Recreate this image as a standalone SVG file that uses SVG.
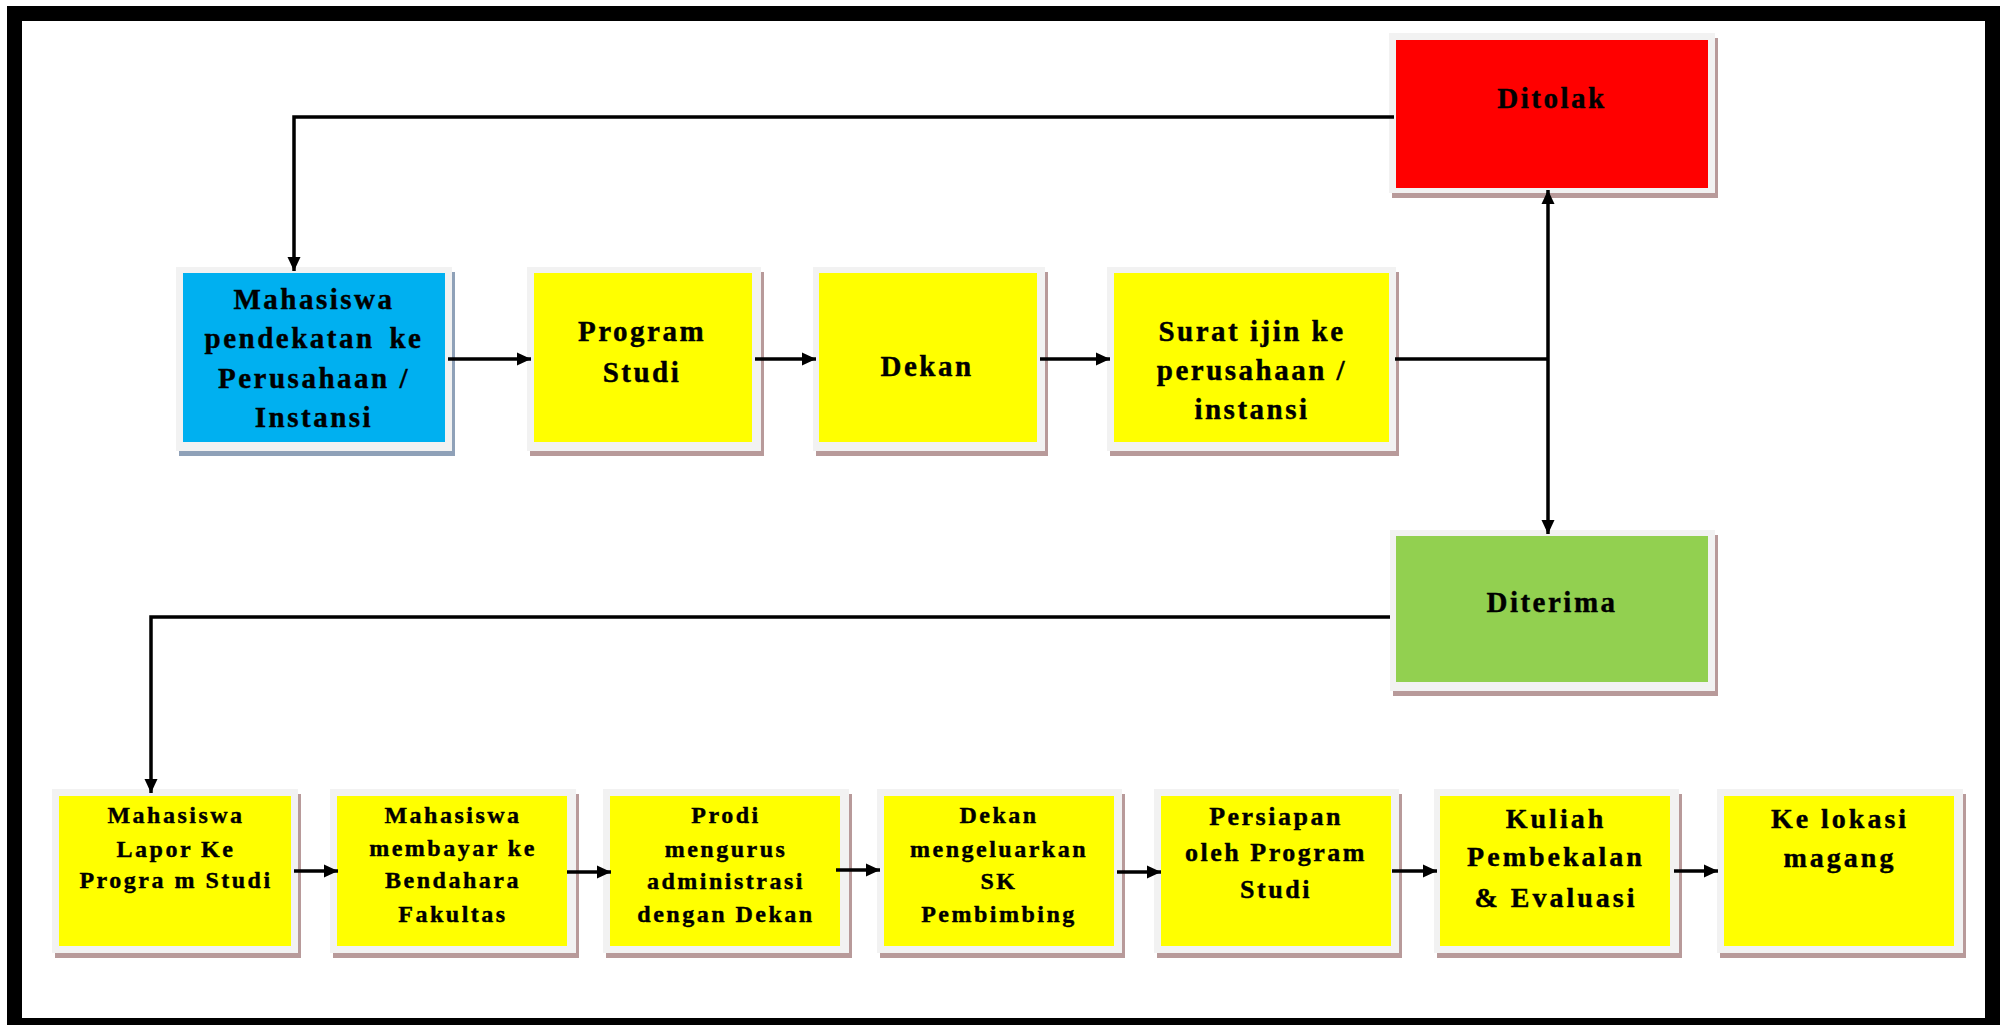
<svg xmlns="http://www.w3.org/2000/svg" width="2006" height="1025" viewBox="0 0 2006 1025">
<style>
.frame{fill:#f2f2f2}
.sh{fill:#b89a9a}
.shb{fill:#8fa1b8}
.y{fill:#ffff00}
.b{fill:#00b0f0}
.r{fill:#ff0000}
.g{fill:#92d050}
text{font-family:"Liberation Serif","Times New Roman",serif;font-weight:bold;fill:#000;stroke:#000;stroke-width:0.4px;text-anchor:middle;letter-spacing:2.5px}
.t29{font-size:29px}
.t24{font-size:24px}
.t26{font-size:26px}
.t28{font-size:28px;letter-spacing:3px}
.c{fill:none;stroke:#000;stroke-width:3.5}
</style>
<defs>
<marker id="ah" markerUnits="userSpaceOnUse" markerWidth="15" markerHeight="14" refX="14" refY="7" orient="auto-start-reverse">
<path d="M0,0.5 L14,7 L0,13.5 z" fill="#000"/>
</marker>
</defs>
<rect x="0" y="0" width="2006" height="1025" fill="#fff"/>
<rect id="border" x="14.5" y="13.5" width="1978" height="1012" fill="none" stroke="#000" stroke-width="15"/>

<g id="n-mahasiswa-pendekatan">
<rect class="shb" x="179" y="272" width="276" height="184"/>
<rect class="frame" x="176" y="267" width="276" height="184"/>
<rect class="b" x="183" y="273" width="262" height="169"/>
<text class="t29" x="314" y="309">Mahasiswa</text>
<text class="t29" x="314" y="348" word-spacing="5">pendekatan ke</text>
<text class="t29" x="314" y="388">Perusahaan /</text>
<text class="t29" x="314" y="427">Instansi</text>
</g>
<g id="n-program-studi">
<rect class="sh" x="530" y="272" width="234" height="184"/>
<rect class="frame" x="527" y="267" width="234" height="184"/>
<rect class="y" x="534" y="273" width="218" height="169"/>
<text class="t29" x="642" y="341">Program</text>
<text class="t29" x="642" y="382">Studi</text>
</g>
<g id="n-dekan">
<rect class="sh" x="816" y="272" width="232" height="184"/>
<rect class="frame" x="813" y="267" width="232" height="184"/>
<rect class="y" x="819" y="273" width="218" height="169"/>
<text class="t29" x="927" y="376">Dekan</text>
</g>
<g id="n-surat-ijin">
<rect class="sh" x="1110" y="272" width="289" height="184"/>
<rect class="frame" x="1107" y="267" width="289" height="184"/>
<rect class="y" x="1114" y="273" width="275" height="169"/>
<text class="t29" x="1252" y="341">Surat ijin ke</text>
<text class="t29" x="1252" y="380">perusahaan /</text>
<text class="t29" x="1252" y="419">instansi</text>
</g>
<g id="n-ditolak">
<rect class="sh" x="1392" y="38" width="326" height="160"/>
<rect class="frame" x="1389" y="33" width="326" height="160"/>
<rect class="r" x="1396" y="40" width="312" height="148"/>
<text class="t29" x="1552" y="108">Ditolak</text>
</g>
<g id="n-diterima">
<rect class="sh" x="1393" y="535" width="325" height="161"/>
<rect class="frame" x="1390" y="530" width="325" height="161"/>
<rect class="g" x="1396" y="536" width="312" height="146"/>
<text class="t29" x="1552" y="612">Diterima</text>
</g>

<g id="n-lapor">
<rect class="sh" x="55" y="794" width="246" height="164"/>
<rect class="frame" x="52" y="789" width="246" height="164"/>
<rect class="y" x="59" y="796" width="232" height="150"/>
<text class="t24" x="176" y="823">Mahasiswa</text>
<text class="t24" x="176" y="857">Lapor Ke</text>
<text class="t24" x="176" y="888">Progra m Studi</text>
</g>
<g id="n-membayar">
<rect class="sh" x="333" y="794" width="246" height="164"/>
<rect class="frame" x="330" y="789" width="246" height="164"/>
<rect class="y" x="337" y="796" width="230" height="150"/>
<text class="t24" x="453" y="823">Mahasiswa</text>
<text class="t24" x="453" y="856">membayar ke</text>
<text class="t24" x="453" y="888">Bendahara</text>
<text class="t24" x="453" y="922">Fakultas</text>
</g>
<g id="n-prodi">
<rect class="sh" x="606" y="794" width="246" height="164"/>
<rect class="frame" x="603" y="789" width="246" height="164"/>
<rect class="y" x="610" y="796" width="230" height="150"/>
<text class="t24" x="726" y="823">Prodi</text>
<text class="t24" x="726" y="857">mengurus</text>
<text class="t24" x="726" y="889">administrasi</text>
<text class="t24" x="726" y="922">dengan Dekan</text>
</g>
<g id="n-sk">
<rect class="sh" x="880" y="794" width="245" height="164"/>
<rect class="frame" x="877" y="789" width="245" height="164"/>
<rect class="y" x="884" y="796" width="230" height="150"/>
<text class="t24" x="999" y="823">Dekan</text>
<text class="t24" x="999" y="857">mengeluarkan</text>
<text class="t24" x="999" y="889">SK</text>
<text class="t24" x="999" y="922">Pembimbing</text>
</g>
<g id="n-persiapan">
<rect class="sh" x="1157" y="794" width="245" height="164"/>
<rect class="frame" x="1154" y="789" width="245" height="164"/>
<rect class="y" x="1161" y="796" width="230" height="150"/>
<text class="t26" x="1276" y="825">Persiapan</text>
<text class="t26" x="1276" y="861">oleh Program</text>
<text class="t26" x="1276" y="898">Studi</text>
</g>
<g id="n-kuliah">
<rect class="sh" x="1437" y="794" width="245" height="164"/>
<rect class="frame" x="1434" y="789" width="245" height="164"/>
<rect class="y" x="1440" y="796" width="230" height="150"/>
<text class="t28" x="1556" y="828">Kuliah</text>
<text class="t28" x="1556" y="866">Pembekalan</text>
<text class="t28" x="1556" y="907">&amp; Evaluasi</text>
</g>
<g id="n-lokasi">
<rect class="sh" x="1720" y="794" width="246" height="164"/>
<rect class="frame" x="1717" y="789" width="246" height="164"/>
<rect class="y" x="1724" y="796" width="230" height="150"/>
<text class="t28" x="1840" y="828">Ke lokasi</text>
<text class="t28" x="1840" y="867">magang</text>
</g>

<g id="connectors">
<polyline class="c" points="1394,117 294,117 294,271" marker-end="url(#ah)"/>
<polyline class="c" points="1390,617 151,617 151,793" marker-end="url(#ah)"/>
<line class="c" x1="448" y1="359" x2="531" y2="359" marker-end="url(#ah)"/>
<line class="c" x1="755" y1="359" x2="816" y2="359" marker-end="url(#ah)"/>
<line class="c" x1="1040" y1="359" x2="1110" y2="359" marker-end="url(#ah)"/>
<line class="c" x1="1395" y1="359" x2="1548" y2="359"/>
<line class="c" x1="1548" y1="190" x2="1548" y2="534" marker-start="url(#ah)" marker-end="url(#ah)"/>
<line class="c" x1="294" y1="871" x2="338" y2="871" marker-end="url(#ah)"/>
<line class="c" x1="567" y1="872" x2="611" y2="872" marker-end="url(#ah)"/>
<line class="c" x1="836" y1="870" x2="880" y2="870" marker-end="url(#ah)"/>
<line class="c" x1="1117" y1="872" x2="1161" y2="872" marker-end="url(#ah)"/>
<line class="c" x1="1392" y1="871" x2="1437" y2="871" marker-end="url(#ah)"/>
<line class="c" x1="1674" y1="871" x2="1718" y2="871" marker-end="url(#ah)"/>
</g>
</svg>
